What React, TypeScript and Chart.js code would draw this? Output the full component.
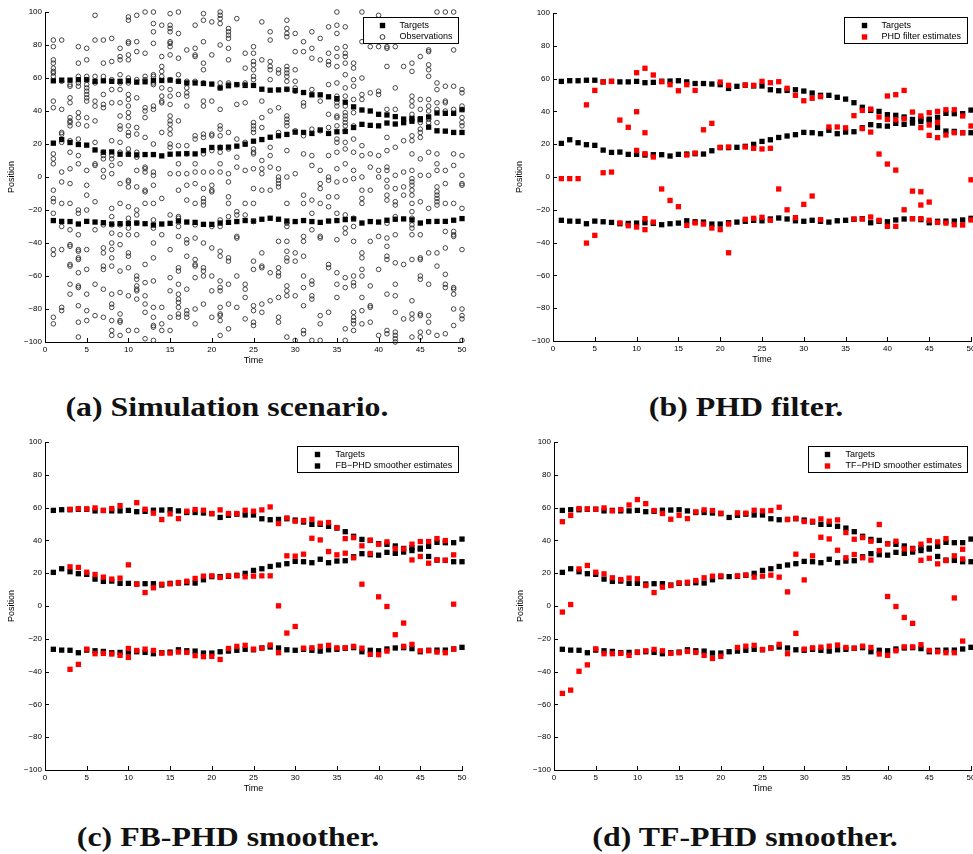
import React, { useEffect, useRef } from "react";
import { Chart, registerables } from "chart.js";

Chart.register(...registerables);

// ---------------- DATA ----------------
const timeSteps = [1,2,3,4,5,6,7,8,9,10,11,12,13,14,15,16,17,18,19,20,21,22,23,24,25,26,27,28,29,30,31,32,33,34,35,36,37,38,39,40,41,42,43,44,45,46,47,48,49,50];

const targetTop = [58.3,58.7,58.7,59,59,58,58.3,58,58,58.3,57.5,57.7,58.4,58.5,58.7,58,57,57,56.7,56.3,54,55.3,56,55.5,55.5,53.2,52.6,52.8,53.2,52.4,51.2,49.8,49.8,48.6,47.5,45.3,42.5,40.6,40,38,37.6,36.6,35.1,35.5,35.3,36.4,38.8,38.6,38.6,40.8];
const targetMid = [20.5,22.7,20.9,19.7,19.3,16.4,15,15.2,13.8,13.8,13.4,13.6,13.6,12.8,13.8,14,14.2,14,16,17.9,17.9,18.1,18.7,19.9,21.7,22.7,24.1,25,25.8,27.2,27,26.4,28.5,26.4,27.4,27.6,30,31.9,31.3,31,32.7,32.1,32.9,33.8,34.7,30.2,28,27.8,27,27];
const targetBot = [-26.4,-26.9,-27,-28.5,-26.9,-27.3,-27.7,-28.5,-28.3,-28.1,-27.9,-28.3,-29.1,-28.5,-28.1,-26.7,-27.3,-27.5,-28.7,-28.7,-27.9,-27.5,-27,-26.4,-26.7,-25.6,-25,-25.6,-26.7,-27,-26.4,-27,-27.5,-26.7,-26.4,-25.8,-25.4,-27.9,-27,-27.3,-26.2,-25.6,-25.4,-26,-27.9,-27,-26.9,-26.9,-26.2,-25.2];

// observations: one row per time step (time 1..50), values = positions
const observations: number[][] = [
  [83,79,71,69,66,64,63,61,46,42,14,11,8,-8,-13,-15,-22,-44,-47,-85,-89],
  [83,58,41,27,26,21,3,-3,-16,-30,-44,-79,-81],
  [56,55,48,45,36,34,33,31,22,15,5,-4,-16,-32,-41,-42,-53,-54,-65,-71],
  [79,69,61,57,55,39,36,32,23,13,8,-20,-22,-35,-44,-45,-49,-50,-58,-66,-67,-78,-88,-97],
  [78,71,61,59,56,54,52,50,48,46,36,31,4,-5,-11,-20,-44,-56,-71,-81,-87],
  [98,83,61,57,46,43,34,21,8,7,-15,-32,-65,-84],
  [83,69,61,50,44,42,15,13,11,4,0,-29,-43,-46,-54,-56,-68,-85],
  [84,70,59,53,45,22,13,11,7,2,-19,-24,-29,-34,-40,-44,-49,-54,-71,-77,-79,-87,-93,-96],
  [78,73,71,62,57,53,45,37,31,29,21,15,8,-4,-16,-29,-35,-41,-57,-70,-83,-87,-88,-96],
  [97,95,82,81,74,71,60,57,50,47,43,39,36,31,27,25,17,14,-2,-3,-6,-18,-25,-31,-35,-46,-48,-55,-72,-93],
  [98,82,76,59,48,30,26,15,12,4,-6,-20,-23,-28,-35,-60,-62,-66,-68,-69,-74,-93],
  [100,75,61,59,42,40,36,24,6,5,3,-8,-9,-16,-53,-64,-72,-77,-82,-98],
  [100,93,88,81,62,61,57,56,43,41,20,3,1,-5,-16,-26,-31,-40,-49,-63,-79,-85,-90,-91,-99],
  [92,73,67,64,61,54,49,46,45,27,-13,-35,-79,-89,-93],
  [99,92,90,88,82,81,79,74,59,53,49,44,37,34,32,29,26,20,18,2,-23,-44,-61,-69,-85,-93],
  [100,87,72,62,58,50,34,19,8,2,-8,-24,-25,-30,-36,-55,-57,-65,-71,-74,-76,-79,-83,-85],
  [77,58,54,51,49,43,19,14,2,-5,-14,-38,-40,-48,-68,-81,-83,-85],
  [92,78,74,73,58,25,23,8,3,-4,-16,-29,-37,-50,-53,-54,-61,-80,-89],
  [99,95,82,69,65,57,46,43,26,24,14,3,-7,-13,-15,-17,-40,-55,-57,-60,-77],
  [94,74,46,26,25,16,3,-5,-8,-9,-30,-43,-60,-69,-85],
  [100,98,96,93,80,57,54,41,31,29,25,18,15,8,3,-26,-30,-45,-48,-63,-67,-69,-79,-83,-84,-87,-96],
  [90,88,86,84,78,71,57,56,27,17,2,-3,-12,-16,-24,-49,-51,-65,-77,-92],
  [96,56,44,23,12,6,-21,-23,-36,-37,-60,-79],
  [75,66,57,56,45,21,4,-16,-23,-65,-68,-73,-86],
  [79,75,70,68,65,61,59,33,31,29,27,17,15,14,5,-7,-16,-27,-51,-56,-78,-81,-88,-90],
  [94,71,46,36,30,10,5,2,-8,-46,-54,-55,-77,-82],
  [88,83,70,67,65,59,40,18,13,6,-8,-58,-75],
  [65,63,42,27,5,0,-2,-4,-6,-39,-55,-58,-60,-73,-85,-88],
  [95,90,87,85,67,65,63,61,58,53,37,35,33,31,16,0,-16,-28,-30,-39,-45,-49,-51,-66,-69,-72,-97],
  [87,76,65,58,54,52,28,2,-46,-51,-72,-99],
  [82,76,45,43,25,14,-11,-16,-36,-39,-48,-60,-67,-78,-93,-95],
  [88,78,72,53,29,13,7,-14,-22,-32,-63,-65,-72,-74,-99],
  [84,71,46,28,4,-4,-7,-16,-36,-37,-84,-89,-99],
  [91,75,70,68,56,38,30,13,0,-2,-12,-18,-53,-55,-82],
  [100,92,87,78,73,67,57,49,47,45,43,37,36,31,23,21,15,5,-3,-12,-22,-38,-58,-65,-73],
  [91,79,75,73,69,62,54,49,43,39,37,35,33,31,28,21,17,8,-2,-23,-31,-34,-61,-67,-92,-99],
  [69,66,59,55,47,39,31,23,15,4,-1,-25,-30,-39,-60,-64,-66,-82,-85,-87,-89,-93],
  [100,82,60,50,47,19,13,0,-8,-13,-16,-46,-49,-56,-60,-73,-81,-89],
  [79,51,14,6,-8,-39,-66,-78,-79,-88],
  [98,79,52,50,13,4,0,-36,-56,-96],
  [79,78,67,41,24,16,6,4,-2,-6,-11,-14,-28,-37,-42,-48,-50,-71,-93,-95],
  [79,54,41,18,1,-7,-15,-17,-24,-35,-52,-65,-72,-82,-94,-96,-98,-100],
  [67,22,3,-6,-11,-53,-86],
  [69,64,49,46,43,38,25,22,14,4,-1,-3,-5,-8,-11,-16,-21,-25,-29,-31,-35,-50,-75,-83,-86,-97],
  [73,47,41,33,29,27,24,11,1,-15,-35,-49,-50,-60,-62,-83,-84,-94,-97],
  [77,76,68,65,61,47,43,40,35,33,15,1,-19,-46,-65,-84,-88,-94],
  [100,57,53,45,41,33,14,8,4,-6,-9,-11,-13,-15,-17,-46,-54,-96],
  [100,55,46,45,40,4,-4,-16,-33,-43,-59,-65,-67,-95],
  [100,77,55,41,14,7,-16,-33,-35,-36,-67,-68,-71,-80,-90],
  [53,51,43,41,36,33,31,13,1,-4,-5,-19,-44,-80,-84,-86,-99],
];

// [time, position]
const phdEstimates: [number, number][] = [
  [1,-1],[2,-1],[3,-1],[4,44],[4,-40.3],[5,52.8],[5,-35.6],[6,58],[6,2.6],[7,58.3],[7,3],
  [8,34.7],[8,-28],[9,30.3],[9,-29.7],[10,63.6],[10,39.8],[10,16.2],[10,-30.5],
  [11,66.3],[11,27],[11,14.2],[11,-25.4],[11,-32.1],[12,62.2],[12,12.2],[12,-27.5],
  [13,58.1],[13,-7.3],[14,56.3],[14,-14.3],[15,52.6],[15,-18.1],[16,56.3],[16,13.4],[16,-29.5],
  [17,52.8],[17,14.6],[17,-28],[18,28.8],[18,-28.7],[19,32.7],[19,-31.1],[20,57.9],[20,18.1],[20,-32.1],
  [21,55.9],[21,18.3],[21,-28.7],[21,-46.2],[23,56.1],[23,18.3],[23,-25.8],[24,55.9],[24,17.5],[24,-25.2],
  [25,58.3],[25,17.1],[25,-24.6],[26,57.5],[26,17.5],[26,-26.4],[27,58.1],[27,-7.3],[28,54.1],[28,-20],
  [29,49.8],[29,-24.8],[30,46.5],[30,-16.7],[31,48],[31,-11.6],[32,49],[32,-26],[33,30.5],[34,30.5],[35,30],
  [36,37.4],[36,-25.6],[37,40.6],[37,29.5],[37,-25.6],[38,41.4],[38,27.4],[38,-24.4],[39,36.6],[39,14],[39,-26.4],
  [40,49.4],[40,35.1],[40,7.9],[40,-30.1],[41,50.2],[41,34.9],[41,4.2],[41,-30.1],[42,52.8],[42,35.5],[42,-20],
  [43,39.6],[43,-8.6],[43,-25.4],[44,37.2],[44,30.1],[44,-9],[44,-17.1],[44,-25.4],
  [45,39.2],[45,31.7],[45,25.4],[45,-15.3],[45,-26.4],[46,40],[46,33.3],[46,24],[46,-27.7],
  [47,41],[47,25.6],[47,-28.1],[48,41],[48,27],[48,-29.1],[49,37.2],[49,27],[49,-29.3],[50,31.1],[50,-1.7],[50,-26.2],
];

const fbEstimates: [number, number][] = [
  [3,59],[3,23.9],[3,-38.6],[4,59.4],[4,23.5],[4,-35.6],[5,59.2],[5,20.6],[5,-26.3],[6,59.8],[6,19.2],[6,-29.1],
  [7,58.2],[7,17.6],[7,-28.9],[8,59.4],[8,16.4],[8,-29.3],[9,61.2],[9,17],[9,-30.1],[10,25.1],[10,-25.9],[10,-31.3],
  [11,63],[11,13.3],[11,-27.1],[12,59],[12,8.2],[12,-26.3],[13,56.6],[13,11.1],[13,-27.1],[14,52.7],[14,13.3],[14,-28.7],
  [15,56.2],[15,13.5],[15,-28.7],[16,53.3],[16,14.3],[16,-28.1],[17,57.8],[17,15.1],[17,-28.3],[18,58.8],[18,16.8],[18,-30.3],
  [19,58.4],[19,18.2],[19,-30.9],[20,56.4],[20,18.4],[20,-30.7],[21,58.6],[21,17.4],[21,-32.6],[22,56.4],[22,18.4],[22,-25.9],
  [23,56.4],[23,18.4],[23,-24.6],[24,58.4],[24,17.8],[24,-24],[25,57.8],[25,18.2],[25,-26.3],[26,58.6],[26,18.4],[26,-25.7],
  [27,60.4],[27,18.4],[27,-23.8],[28,50.3],[28,0.1],[28,-28.5],[29,53.7],[29,30.6],[29,-16.5],[30,51.7],[30,30.4],[30,-12.5],
  [31,52.1],[31,31.6],[31,-25.7],[32,52.9],[32,41.3],[32,-25.5],[33,50.5],[33,40.3],[33,-24.6],[34,50.9],[34,33.2],[34,-24],
  [35,47.8],[35,31.2],[35,-25.5],[36,41.1],[36,32.2],[36,-25.5],[37,41.7],[37,29.4],[37,-24.6],[38,36.7],[38,13.3],[38,-25.7],
  [39,40.1],[39,32],[39,-29.5],[40,37.7],[40,5.6],[40,-29.7],[41,39.1],[41,-0.3],[41,-27.5],[42,35],[42,-17.5],
  [43,34.8],[43,-10.4],[43,-24.6],[44,37.7],[44,28.1],[44,-23.4],[45,39.3],[45,30.2],[45,-27.3],[46,39.3],[46,26.1],[46,-27.3],
  [47,41.1],[47,28.1],[47,-28.1],[48,39.9],[48,27.9],[48,-28.5],[49,31.2],[49,1.1],[49,-26.3],
];

const tfEstimates: [number, number][] = [
  [1,51.4],[1,-3.7],[1,-53.3],[2,55.2],[2,0.9],[2,-51.3],[3,59.4],[3,22.6],[3,-39.8],[4,59.2],[4,24.7],[4,-35.9],
  [5,59],[5,20.6],[5,-26.1],[6,59.8],[6,19.6],[6,-29.1],[7,58],[7,17.2],[7,-29.1],[8,58.8],[8,16.1],[8,-28.9],
  [9,61.6],[9,17],[9,-30.1],[10,64.9],[10,16.6],[10,-28.3],[11,62.4],[11,12.5],[11,-27.3],[12,58.2],[12,8.2],[12,-26.5],
  [13,56.4],[13,11.5],[13,-27.3],[14,52.9],[14,12.5],[14,-28.9],[15,55.3],[15,14.1],[15,-28.5],[16,53.3],[16,14.5],[16,-27.7],
  [17,57.4],[17,15.5],[17,-28.3],[18,58.6],[18,17.2],[18,-30.1],[19,58.2],[19,18.2],[19,-32],[20,56.6],[20,18.4],[20,-30.7],
  [22,56.8],[22,18.4],[22,-25.3],[23,56.6],[23,18.9],[23,-24.5],[24,58.4],[24,17.6],[24,-24],[25,58],[25,18.2],[25,-26.5],
  [26,58.2],[26,18.8],[26,-25.7],[27,60.2],[27,17.6],[27,-23.4],[28,52.7],[28,8.6],[28,-29.1],[29,53.5],[29,31.6],[29,-16.7],
  [30,51.5],[30,15.9],[30,-26.3],[31,51.7],[31,30.6],[31,-25.5],[32,53.1],[32,41.9],[32,-25.1],[33,51.7],[33,40.9],[33,-24.5],
  [34,52.5],[34,34],[34,-23.8],[35,44.8],[35,29.4],[35,-25.3],[36,40.7],[36,31.4],[36,-25.7],[37,41.7],[37,29.4],[37,-24.5],
  [38,39.5],[38,28],[38,-25.3],[39,49.7],[39,33.8],[39,-29.3],[40,37.9],[40,5.8],[40,-30.1],[41,39.5],[41,-0.3],[41,-27.3],
  [42,34.8],[42,-7],[42,-24.9],[43,34.8],[43,-10.6],[43,-24.9],[44,37.7],[44,27.9],[44,-23.6],[45,39.9],[45,29.1],[45,-27.1],
  [46,39.1],[46,25.7],[46,-27.9],[47,41.1],[47,27.7],[47,-28.5],[48,30.6],[48,4.9],[48,-28.5],[49,34.6],[49,28.7],[49,-21.4],
];

const xTicksStep = 5;
const yTicksStep = 20;

// ---------------- STYLE / LAYOUT ----------------
const FONT = '"Liberation Sans", Arial, Helvetica, sans-serif';
const AXIS_W = 45;
const PAD_T = 12;
const AXIS_H = 32;
const PAD_R = 15;

type Area = { left: number; top: number; right: number; bottom: number };

const targetPoints = () =>
  timeSteps.flatMap((t, i) => [
    { x: t, y: targetTop[i] },
    { x: t, y: targetMid[i] },
    { x: t, y: targetBot[i] },
  ]);

const targetsDataset = () => ({
  label: "Targets",
  data: targetPoints(),
  pointStyle: "rect",
  pointRadius: 3.75,
  borderWidth: 0,
  backgroundColor: "#000000",
  borderColor: "#000000",
  order: 1,
  clip: false,
});

const estimatesDataset = (label: string, pairs: [number, number][], legendColor?: string) => ({
  label,
  data: pairs.map(([x, y]) => ({ x, y })),
  pointStyle: "rect",
  pointRadius: 3.75,
  borderWidth: 0,
  backgroundColor: "#ff0000",
  borderColor: "#ff0000",
  legendColor: legendColor || "#ff0000",
  order: 0,
  clip: false,
});

const observationsDataset = () => ({
  label: "Observations",
  data: observations.flatMap((row, i) => row.map((y) => ({ x: timeSteps[i], y }))),
  pointStyle: "circle",
  pointRadius: 2.3,
  borderWidth: 0.8,
  backgroundColor: "rgba(0,0,0,0)",
  borderColor: "#1a1a1a",
  order: 0,
  clip: false,
});

const matlabPlugin = {
  id: "matlabAxes",
  afterDraw(chart: any, _args: any, opts: any) {
    const { ctx, chartArea: a } = chart;
    const xs = chart.scales.x;
    const ys = chart.scales.y;
    ctx.save();
    // inward ticks
    ctx.strokeStyle = "#000";
    ctx.lineWidth = 1;
    ctx.beginPath();
    for (const t of xs.ticks) {
      const px = Math.round(xs.getPixelForValue(t.value)) + 0.5;
      ctx.moveTo(px, a.bottom);
      ctx.lineTo(px, a.bottom - 4);
    }
    for (const t of ys.ticks) {
      const py = Math.round(ys.getPixelForValue(t.value)) + 0.5;
      ctx.moveTo(a.left, py);
      ctx.lineTo(a.left + 4, py);
    }
    ctx.stroke();
    // axis titles
    ctx.fillStyle = "#000";
    ctx.font = `9px ${FONT}`;
    ctx.textAlign = "center";
    ctx.textBaseline = "middle";
    ctx.fillText(opts.xTitle, (a.left + a.right) / 2, a.bottom + 19);
    ctx.save();
    ctx.translate(a.left - 33, (a.top + a.bottom) / 2);
    ctx.rotate(-Math.PI / 2);
    ctx.fillText(opts.yTitle, 0, 0);
    ctx.restore();
    // legend box
    const items = chart.data.datasets.map((ds: any) => ({
      label: ds.label,
      style: ds.pointStyle,
      fill: ds.legendColor || ds.backgroundColor,
      stroke: ds.borderColor,
    }));
    ctx.font = `9px ${FONT}`;
    const textW = Math.max(...items.map((it: any) => ctx.measureText(it.label).width));
    const w = Math.round(opts.textX + textW + 6);
    const h = 26;
    const bx = Math.round(a.right - 4 - w) + 0.5;
    const by = Math.round(a.top + opts.boxTop) + 0.5;
    ctx.fillStyle = "#fff";
    ctx.fillRect(bx, by, w, h);
    ctx.strokeStyle = "#000";
    ctx.lineWidth = 1;
    ctx.strokeRect(bx, by, w, h);
    items.forEach((it: any, k: number) => {
      const cy = by + 8 + k * 11.5;
      const mx = bx + opts.markerX;
      if (it.style === "circle") {
        ctx.beginPath();
        ctx.arc(mx, cy, 2.4, 0, Math.PI * 2);
        ctx.strokeStyle = it.stroke;
        ctx.lineWidth = 0.9;
        ctx.stroke();
      } else {
        ctx.fillStyle = it.fill;
        ctx.fillRect(mx - 2.7, cy - 2.7, 5.4, 5.4);
      }
      ctx.fillStyle = "#000";
      ctx.textAlign = "left";
      ctx.textBaseline = "middle";
      ctx.fillText(it.label, bx + opts.textX, cy);
    });
    ctx.restore();
  },
};

function Panel({ area, makeDatasets, legend }: { area: Area; makeDatasets: () => any[]; legend: any }) {
  const ref = useRef<HTMLCanvasElement>(null);
  const W = area.right - area.left + AXIS_W + PAD_R;
  const H = area.bottom - area.top + PAD_T + AXIS_H;
  useEffect(() => {
    const tickFont = { size: 8, family: FONT };
    const chart = new Chart(ref.current as HTMLCanvasElement, {
      type: "scatter",
      data: { datasets: makeDatasets() },
      plugins: [matlabPlugin as any],
      options: {
        responsive: false,
        animation: false,
        devicePixelRatio: 1,
        events: [],
        layout: { padding: { top: PAD_T, right: PAD_R, left: 0, bottom: 0 } },
        plugins: {
          legend: { display: false },
          tooltip: { enabled: false },
          matlabAxes: { xTitle: "Time", yTitle: "Position", ...legend },
        } as any,
        scales: {
          x: {
            type: "linear",
            min: 0,
            max: 50,
            ticks: { stepSize: xTicksStep, font: tickFont, color: "#000", padding: 3, maxRotation: 0, autoSkip: false },
            grid: { display: false, drawTicks: false },
            border: { display: true, color: "#000", width: 1 },
            afterFit: (s: any) => {
              s.height = AXIS_H;
            },
          },
          y: {
            type: "linear",
            min: -100,
            max: 100,
            ticks: {
              stepSize: yTicksStep,
              font: tickFont,
              color: "#000",
              padding: 3,
              autoSkip: false,
              callback: (v: any) => (Number(v) < 0 ? "\u2212" + Math.abs(Number(v)) : String(v)),
            },
            grid: { display: false, drawTicks: false },
            border: { display: true, color: "#000", width: 1 },
            afterFit: (s: any) => {
              s.width = AXIS_W;
            },
          },
        } as any,
      },
    });
    return () => chart.destroy();
  }, []);
  return (
    <canvas
      ref={ref}
      width={W}
      height={H}
      style={{ position: "absolute", left: area.left - AXIS_W, top: area.top - PAD_T, width: W, height: H }}
    />
  );
}

function Caption({ cx, baseline, text }: { cx: number; baseline: number; text: string }) {
  return (
    <div
      style={{
        position: "absolute",
        left: cx - 300,
        width: 600,
        top: baseline - 22.6,
        height: 27,
        lineHeight: "27px",
        fontSize: 27,
        fontFamily: '"Liberation Serif", "Times New Roman", serif',
        fontWeight: "bold",
        textAlign: "center",
        color: "#111",
        whiteSpace: "nowrap",
        transform: "scaleX(1.18)",
        transformOrigin: "center",
      }}
    >
      {text}
    </div>
  );
}

export default function App() {
  return (
    <div
      style={{
        position: "absolute",
        left: 0,
        top: 0,
        width: 973,
        height: 854,
        overflow: "hidden",
        background: "#fff",
      }}
    >
      <Panel
        area={{ left: 45, top: 12, right: 462, bottom: 342 }}
        makeDatasets={() => [targetsDataset(), observationsDataset()]}
        legend={{ boxTop: 5, markerX: 19, textX: 36 }}
      />
      <Panel
        area={{ left: 553, top: 13, right: 971, bottom: 341 }}
        makeDatasets={() => [targetsDataset(), estimatesDataset("PHD filter estimates", phdEstimates)]}
        legend={{ boxTop: 4, markerX: 20, textX: 37 }}
      />
      <Panel
        area={{ left: 45, top: 442, right: 462, bottom: 770 }}
        makeDatasets={() => [
          targetsDataset(),
          estimatesDataset("FB\u2212PHD smoother estimates", fbEstimates, "#000000"),
        ]}
        legend={{ boxTop: 4, markerX: 20, textX: 38 }}
      />
      <Panel
        area={{ left: 554, top: 442, right: 971, bottom: 770 }}
        makeDatasets={() => [targetsDataset(), estimatesDataset("TF\u2212PHD smoother estimates", tfEstimates)]}
        legend={{ boxTop: 4, markerX: 19, textX: 37 }}
      />
      <Caption cx={226.5} baseline={417} text="(a) Simulation scenario." />
      <Caption cx={746} baseline={417} text="(b) PHD filter." />
      <Caption cx={228} baseline={847} text="(c) FB-PHD smoother." />
      <Caption cx={745} baseline={847} text="(d) TF-PHD smoother." />
    </div>
  );
}
